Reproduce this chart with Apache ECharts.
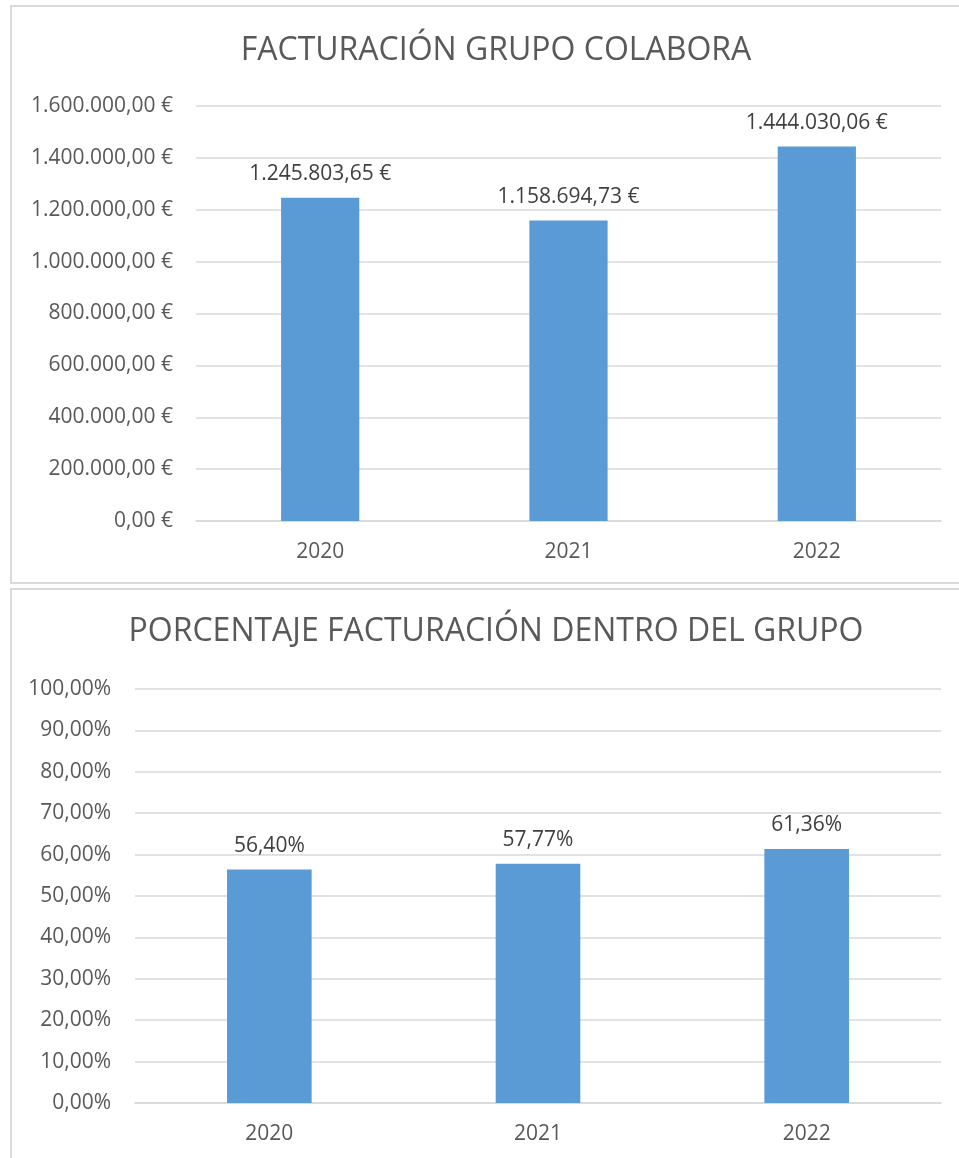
<!DOCTYPE html>
<html lang="es">
<head>
<meta charset="UTF-8">
<title>Facturación Grupo Colabora</title>
<script src="https://cdn.jsdelivr.net/npm/echarts@6/dist/echarts.min.js"></script>
<style>
  html, body { margin: 0; padding: 0; background: #fff; }
  #chart { width: 959px; height: 1158px; }
</style>
</head>
<body>
<div id="chart"></div>
<script>
// datos
var years = ['2020', '2021', '2022'];
var facturacion = [1245803.65, 1158694.73, 1444030.06];
var porcentaje = [56.40, 57.77, 61.36];

var FONT = '"Open Sans", "Noto Sans", sans-serif';
var GRIS = '#595959';
var LINEA = '#d9d9d9';
var AZUL = '#5b9bd5';

function euros(v) {
  var partes = Number(v).toFixed(2).split('.');
  var entero = partes[0].replace(/\B(?=(\d{3})+(?!\d))/g, '.');
  return entero + ',' + partes[1] + ' €';
}
function pct(v) {
  return Number(v).toFixed(2).replace('.', ',') + '%';
}

var chart = echarts.init(document.getElementById('chart'));

var axisLabelStyle = { color: GRIS, fontSize: 21, fontFamily: FONT };

chart.setOption({
  animation: false,
  backgroundColor: '#fff',
  graphic: [
    { type: 'rect', shape: { x: 11, y: 6, width: 960, height: 577 },
      style: { fill: 'none', stroke: LINEA, lineWidth: 2 }, silent: true },
    { type: 'rect', shape: { x: 11, y: 589, width: 960, height: 600 },
      style: { fill: 'none', stroke: LINEA, lineWidth: 2 }, silent: true }
  ],
  title: [
    { text: 'FACTURACIÓN GRUPO COLABORA', left: 491, top: 30, textAlign: 'center',
      textStyle: { color: GRIS, fontSize: 32, fontWeight: 'normal', fontFamily: FONT } },
    { text: 'PORCENTAJE FACTURACIÓN DENTRO DEL GRUPO', left: 491, top: 611, textAlign: 'center',
      textStyle: { color: GRIS, fontSize: 32, fontWeight: 'normal', fontFamily: FONT } }
  ],
  grid: [
    { left: 196, right: 18, top: 106, height: 415 },
    { left: 135, right: 18, top: 689, height: 414 }
  ],
  xAxis: [0, 1].map(function (i) {
    return {
      type: 'category', gridIndex: i, data: years,
      axisLine: { lineStyle: { color: LINEA, width: 1.5 } },
      axisTick: { show: false },
      axisLabel: Object.assign({ margin: 21 }, axisLabelStyle)
    };
  }),
  yAxis: [
    { type: 'value', gridIndex: 0, min: 0, max: 1600000, interval: 200000,
      axisLine: { show: false }, axisTick: { show: false },
      splitLine: { lineStyle: { color: LINEA, width: 1.5 } },
      axisLabel: Object.assign({ margin: 23, formatter: euros }, axisLabelStyle) },
    { type: 'value', gridIndex: 1, min: 0, max: 100, interval: 10,
      axisLine: { show: false }, axisTick: { show: false },
      splitLine: { lineStyle: { color: LINEA, width: 1.5 } },
      axisLabel: Object.assign({ margin: 24, formatter: pct }, axisLabelStyle) }
  ],
  series: [
    { type: 'bar', xAxisIndex: 0, yAxisIndex: 0, data: facturacion,
      barWidth: '31.5%', itemStyle: { color: AZUL },
      label: { show: true, position: 'top', distance: 13, color: '#404040',
        fontSize: 21, fontFamily: FONT,
        formatter: function (p) { return euros(p.value); } } },
    { type: 'bar', xAxisIndex: 1, yAxisIndex: 1, data: porcentaje,
      barWidth: '31.5%', itemStyle: { color: AZUL },
      label: { show: true, position: 'top', distance: 13, color: '#404040',
        fontSize: 21, fontFamily: FONT,
        formatter: function (p) { return pct(p.value); } } }
  ]
});
</script>
</body>
</html>
